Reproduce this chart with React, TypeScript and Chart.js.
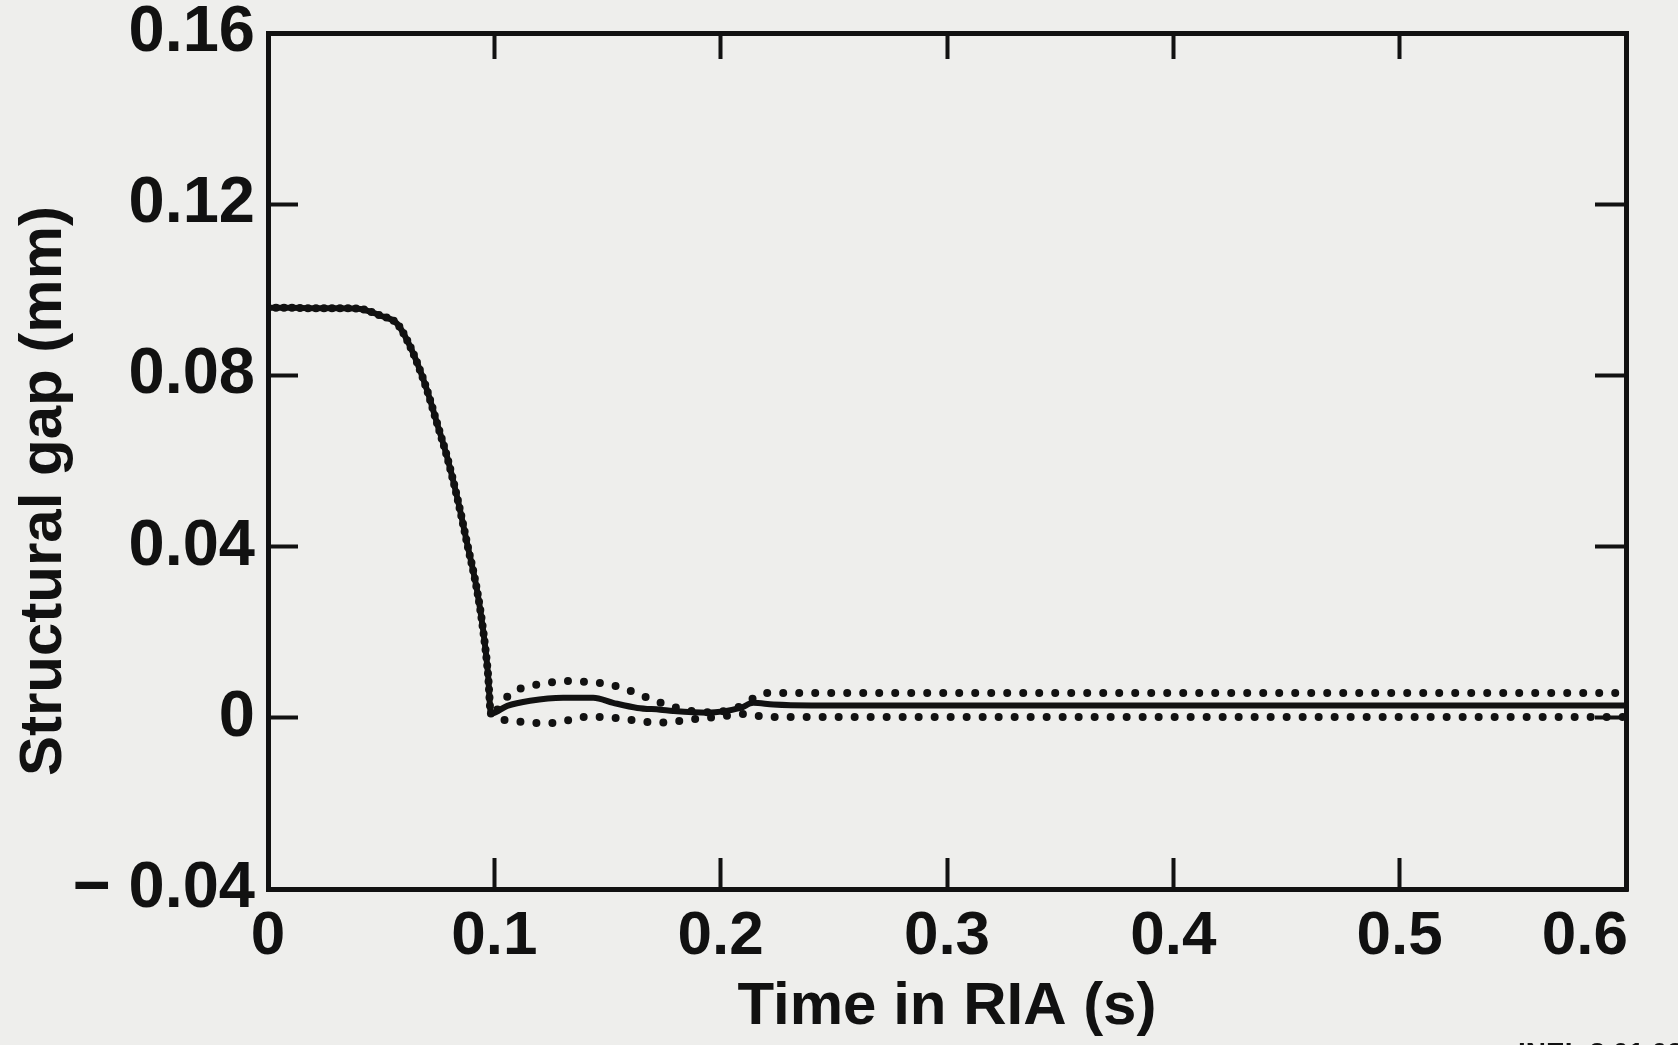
import { useEffect, useRef } from "react";
import { Chart, registerables } from "chart.js";

Chart.register(...registerables);

// ---- data (time in s, structural gap in mm) ----
const earlyTime = [0, 0.01, 0.02, 0.03, 0.04, 0.0495, 0.057, 0.0615, 0.066, 0.0703, 0.0747, 0.0792, 0.0836, 0.088, 0.0924, 0.0951, 0.0972, 0.0985];
const earlyGap = [0.0958, 0.0958, 0.0957, 0.0957, 0.0956, 0.094, 0.0921, 0.0882, 0.0828, 0.0765, 0.0688, 0.0608, 0.0515, 0.0407, 0.0297, 0.0203, 0.0103, 0.001];

const solidTime = [0.1057, 0.1158, 0.1304, 0.1437, 0.1525, 0.1632, 0.1733, 0.179, 0.194, 0.2087, 0.2144, 0.2233, 0.24, 0.6];
const solidGap = [0.0028, 0.004, 0.0047, 0.0047, 0.0035, 0.0023, 0.0019, 0.0016, 0.0012, 0.0023, 0.0035, 0.0031, 0.0029, 0.0029];

const upperTime = [0.1074, 0.1141, 0.1207, 0.1269, 0.1336, 0.1406, 0.146, 0.153, 0.16, 0.1675, 0.1746, 0.185, 0.195, 0.207, 0.214, 0.2202, 0.6];
const upperGap = [0.0058, 0.0072, 0.0079, 0.0084, 0.0086, 0.0084, 0.0082, 0.0075, 0.0063, 0.0047, 0.0033, 0.0018, 0.0013, 0.0023, 0.0044, 0.0058, 0.0058];

const lowerTime = [0.1039, 0.1114, 0.118, 0.1247, 0.1318, 0.138, 0.1446, 0.1525, 0.16, 0.1663, 0.172, 0.1786, 0.1853, 0.1942, 0.203, 0.2118, 0.2202, 0.6];
const lowerGap = [-0.0005, -0.0009, -0.0012, -0.0012, -0.0007, 0.0002, 0.0002, 0, -0.0005, -0.0009, -0.0012, -0.0009, -0.0005, 0, 0.0005, 0.0009, 0.0002, 0.0002];

const xTickLabels = ["0", "0.1", "0.2", "0.3", "0.4", "0.5", "0.6"];
const yTickLabels = ["\u2212 0.04", "0", "0.04", "0.08", "0.12", "0.16"];

const xTitle = "Time in RIA (s)";
const yTitle = "Structural gap (mm)";
const footnote = "INEL 3 01 03";

const BG = "#eeeeec";
const INK = "#111111";
const FONT = "'Liberation Sans', Arial, Helvetica, sans-serif";

function toPoints(t: number[], g: number[]) {
  return t.map((x, i) => ({ x, y: g[i] }));
}

export default function App() {
  const ref = useRef<HTMLCanvasElement>(null);

  useEffect(() => {
    document.body.style.margin = "0";
    document.body.style.background = BG;
    const canvas = ref.current!;

    const bgPlugin = {
      id: "bg",
      beforeDraw(chart: any) {
        const ctx = chart.ctx;
        ctx.save();
        ctx.fillStyle = BG;
        ctx.fillRect(0, 0, chart.width, chart.height);
        ctx.restore();
      },
    };

    const textPlugin = {
      id: "axisText",
      afterDraw(chart: any) {
        const ctx = chart.ctx;
        const xs = chart.scales.x;
        ctx.save();
        ctx.fillStyle = INK;
        ctx.font = `bold 62px ${FONT}`;
        ctx.textBaseline = "middle";
        xs.ticks.forEach((tk: any, i: number) => {
          const px = xs.getPixelForValue(tk.value);
          const last = i === xs.ticks.length - 1;
          ctx.textAlign = last ? "right" : "center";
          ctx.fillText(xTickLabels[i] ?? "", px + (last ? 2 : 0), 937);
        });
        // y axis title
        ctx.font = `bold 60px ${FONT}`;
        ctx.translate(44, 491);
        ctx.rotate(-Math.PI / 2);
        ctx.textAlign = "center";
        ctx.fillText(yTitle, 0, 0);
        ctx.restore();
        // footnote (mostly cut off at the bottom edge)
        ctx.save();
        ctx.fillStyle = INK;
        ctx.font = `bold 28px ${FONT}`;
        ctx.textBaseline = "top";
        ctx.textAlign = "left";
        ctx.fillText(footnote, 1518, 1040);
        ctx.restore();
      },
    };

    const lineCommon = {
      borderColor: INK,
      pointRadius: 0,
      fill: false,
      cubicInterpolationMode: "monotone" as const,
      borderCapStyle: "round" as const,
      borderJoinStyle: "round" as const,
    };

    const chart = new Chart(canvas, {
      type: "line",
      data: {
        datasets: [
          {
            ...lineCommon,
            label: "upper",
            data: toPoints([...earlyTime, ...upperTime], [...earlyGap, ...upperGap]),
            borderWidth: 8,
            borderDash: [0, 16],
          },
          {
            ...lineCommon,
            label: "lower",
            data: toPoints([...earlyTime, ...lowerTime], [...earlyGap, ...lowerGap]),
            borderWidth: 8,
            borderDash: [0, 16],
            borderDashOffset: 8,
          },
          {
            ...lineCommon,
            label: "calculated",
            data: toPoints([...earlyTime, ...solidTime], [...earlyGap, ...solidGap]),
            borderWidth: 6,
          },
        ],
      },
      options: {
        responsive: false,
        animation: false,
        devicePixelRatio: 1,
        layout: { padding: 0 },
        plugins: { legend: { display: false }, tooltip: { enabled: false } },
        scales: {
          x: {
            type: "linear",
            position: "bottom",
            min: 0,
            max: 0.6,
            ticks: { display: false, stepSize: 0.1 },
            grid: { drawOnChartArea: false, drawTicks: true, tickLength: -31, tickWidth: 4, tickColor: INK },
            border: { display: true, width: 5, color: INK },
            title: {
              display: true,
              text: xTitle,
              color: INK,
              font: { family: FONT, size: 60, weight: "bold" },
              padding: { top: 0, bottom: 2 },
            },
            afterFit: (s: any) => {
              s.height = 156;
              s.paddingLeft = 0;
              s.paddingRight = 0;
            },
          },
          x2: {
            type: "linear",
            position: "top",
            min: 0,
            max: 0.6,
            ticks: { display: false, stepSize: 0.1 },
            grid: { drawOnChartArea: false, drawTicks: true, tickLength: -26, tickWidth: 4, tickColor: INK },
            border: { display: true, width: 5, color: INK },
            afterFit: (s: any) => {
              s.height = 33;
              s.paddingLeft = 0;
              s.paddingRight = 0;
            },
          },
          y: {
            type: "linear",
            position: "left",
            min: -0.04,
            max: 0.16,
            ticks: {
              stepSize: 0.04,
              padding: 43,
              color: INK,
              font: { family: FONT, size: 65, weight: "bold" },
              callback: (_v: any, i: number) => yTickLabels[i] ?? "",
            },
            grid: { drawOnChartArea: false, drawTicks: true, tickLength: -30, tickWidth: 4, tickColor: INK },
            border: { display: true, width: 5, color: INK },
            afterFit: (s: any) => {
              s.width = 268;
              s.paddingTop = 0;
              s.paddingBottom = 0;
            },
          },
          y2: {
            type: "linear",
            position: "right",
            min: -0.04,
            max: 0.16,
            ticks: { display: false, stepSize: 0.04 },
            grid: { drawOnChartArea: false, drawTicks: true, tickLength: -31, tickWidth: 4, tickColor: INK },
            border: { display: true, width: 5, color: INK },
            afterFit: (s: any) => {
              s.width = 52;
              s.paddingTop = 0;
              s.paddingBottom = 0;
            },
          },
        },
      },
      plugins: [bgPlugin, textPlugin],
    });

    return () => chart.destroy();
  }, []);

  return (
    <div style={{ position: "fixed", left: 0, top: 0, width: 1678, height: 1045, background: BG }}>
      <canvas ref={ref} width={1678} height={1045} style={{ display: "block", width: 1678, height: 1045 }} />
    </div>
  );
}
